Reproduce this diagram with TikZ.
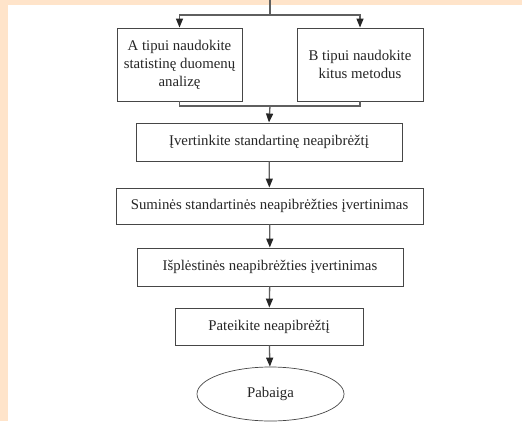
\documentclass[tikz,border=0pt]{standalone}
\usepackage{fontspec}
\setmainfont{Liberation Serif}
\usepackage{tikz}
\usetikzlibrary{shapes.geometric, arrows.meta, positioning, calc}
\definecolor{mypeach}{RGB}{255,228,202}
\definecolor{mydark}{RGB}{70,70,70}
\definecolor{myline}{RGB}{95,95,95}
\tikzset{
  block/.style={rectangle, draw=mydark, fill=white, align=center, font=\fontsize{14.8}{18}\selectfont, text=black!85, line width=0.9pt, inner sep=0pt},
  endblock/.style={ellipse, draw=mydark, fill=white, font=\fontsize{14.8}{18}\selectfont, text=black!85, line width=0.7pt, inner sep=0pt},
  arrow/.style={-{Triangle[length=9pt, width=7pt, color=black!85]}, line width=1.3pt, color=myline},
  line/.style={line width=1.3pt, color=myline}
}

\begin{document}
\begin{tikzpicture}[x=1pt, y=-1pt]
  % Background
  \useasboundingbox (0,0) rectangle (522,421);
  \fill[mypeach] (0,0) rectangle (522,421);
  \fill[white] (8,5) rectangle (522,421);

  % Blocks
  \node[block, minimum width=125, minimum height=73] (typeA) at (179.5,64.5) {A tipui naudokite\\statistinę duomenų\\analizę};
  \node[block, minimum width=126, minimum height=73] (typeB) at (360,64.5) {B tipui naudokite\\kitus metodus};
  \node[block, minimum width=266, minimum height=38] (estimate) at (269,142) {Įvertinkite standartinę neapibrėžtį};
  \node[block, minimum width=307, minimum height=36] (combined) at (269.5,206) {Suminės standartinės neapibrėžties įvertinimas};
  \node[block, minimum width=266, minimum height=38] (expanded) at (270,267) {Išplėstinės neapibrėžties įvertinimas};
  \node[block, minimum width=188, minimum height=37] (report) at (269,326.5) {Pateikite neapibrėžtį};
  \node[endblock, minimum width=147, minimum height=54] (finish) at (270.5,394) {Pabaiga};

  % Split and merge
  \coordinate (top) at (270,0);
  \coordinate (split) at (270,15);
  \coordinate (merge) at (270,106);
  \draw[line] (top) -- (split);
  \draw[arrow] (split) -| (typeA.north);
  \draw[arrow] (split) -| (typeB.north);
  \draw[line] (typeA.south) |- (merge);
  \draw[line] (typeB.south) |- (merge);

  % Arrows
  \draw[arrow] (merge) -- (estimate.north);
  \draw[arrow] (estimate) -- (combined);
  \draw[arrow] (combined) -- (expanded);
  \draw[arrow] (expanded) -- (report);
  \draw[arrow] (report) -- (finish);
\end{tikzpicture}
\end{document}
